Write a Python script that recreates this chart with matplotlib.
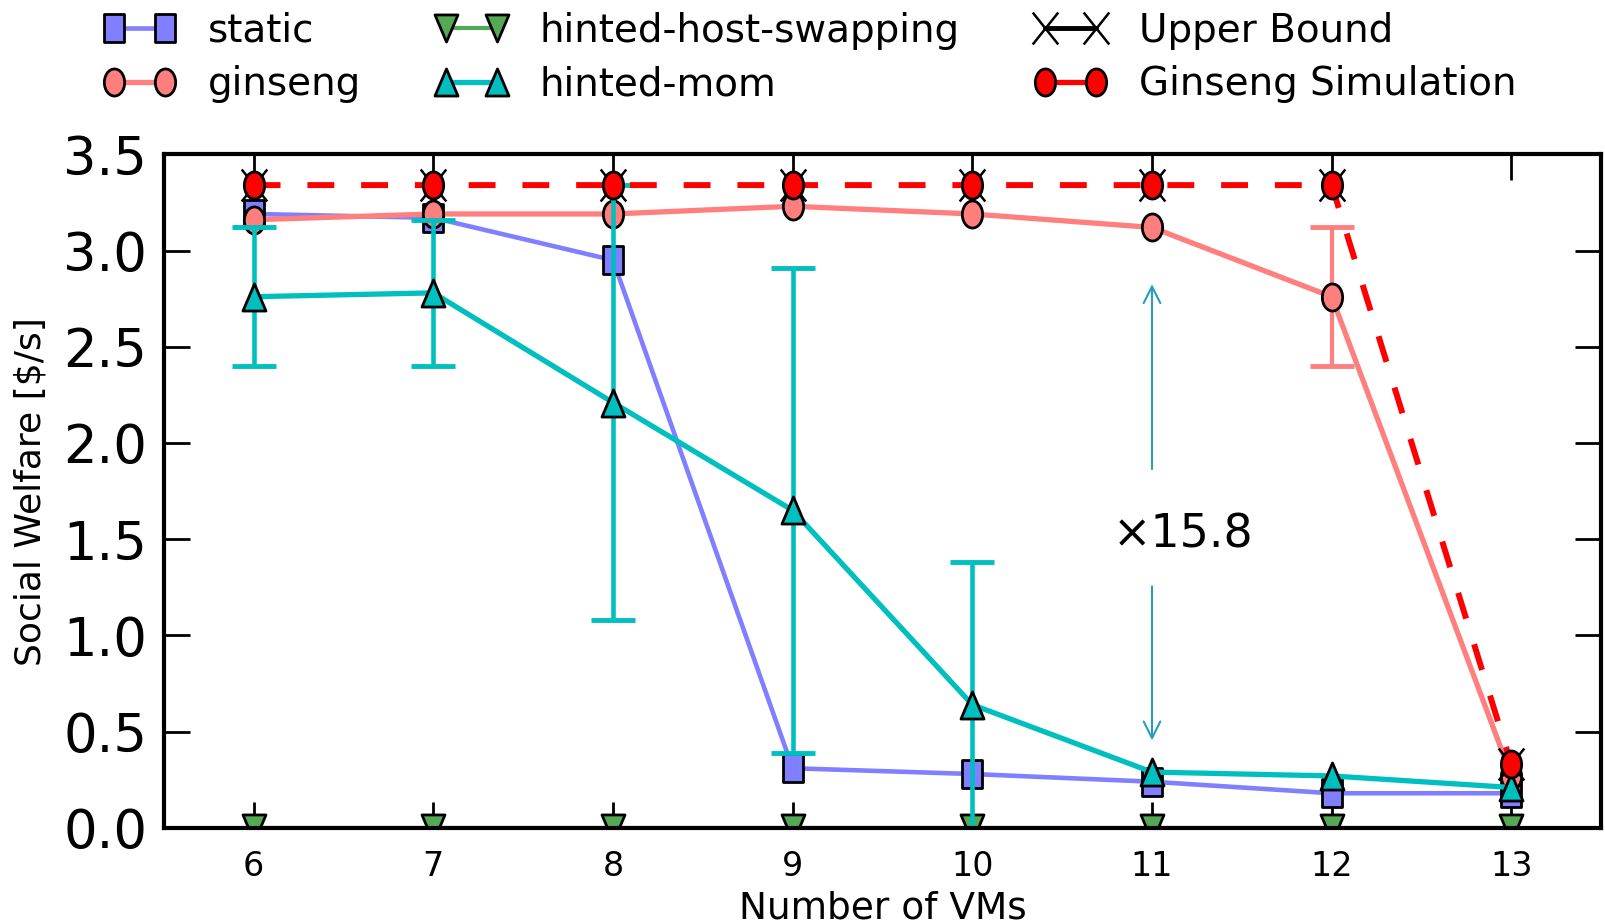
import numpy as np
import matplotlib
matplotlib.use("Agg")
import matplotlib.pyplot as plt
from matplotlib.lines import Line2D
from matplotlib.path import Path

vms = [6, 7, 8, 9, 10, 11, 12, 13]

static = [3.19, 3.17, 2.95, 0.31, 0.28, 0.24, 0.18, 0.18]
ginseng = [3.16, 3.19, 3.19, 3.23, 3.19, 3.12, 2.76, 0.27]
hinted_host_swapping = [0.0, 0.0, 0.0, 0.0, 0.0, 0.0, 0.0, 0.0]
hinted_mom = [2.76, 2.78, 2.21, 1.65, 0.64, 0.29, 0.27, 0.21]
upper_bound = [3.34, 3.34, 3.34, 3.34, 3.34, 3.34, 3.34, 0.33]
ginseng_sim = [3.34, 3.34, 3.34, 3.34, 3.34, 3.34, 3.34, 0.33]

# error bars only where they show up in the figure
mom_err_x = [6, 7, 8, 9, 10]
mom_err = [0.36, 0.38, 1.13, 1.26, 0.74]
ginseng_err_x = [12]
ginseng_err = [0.36]

c_static = '#7f7fff'
c_ginseng = '#ff7f7f'
c_hhs = '#55a955'
c_mom = '#00bfbf'
c_sim = '#ff0000'


# the original figure was squeezed sideways, so markers are a bit taller than wide
def squeeze(path, sx=0.75):
    v = path.vertices.copy()
    v[:, 0] *= sx
    return Path(v, path.codes)


m_circle = squeeze(Path.unit_circle())
m_square = squeeze(Path([(-1, -1), (1, -1), (1, 1), (-1, 1), (-1, -1)], closed=True))
m_down = squeeze(Path([(-1, 1), (1, 1), (0, -1), (-1, 1)], closed=True), 0.85)
m_up = squeeze(Path([(-1, -1), (1, -1), (0, 1), (-1, -1)], closed=True), 0.85)
m_x = squeeze(Path([(-1, -1), (1, 1), (-1, 1), (1, -1)],
                   [Path.MOVETO, Path.LINETO, Path.MOVETO, Path.LINETO]), 0.8)

ms = 19.5
lw = 3.8

fig = plt.figure(figsize=(16.06, 9.24), dpi=100)
ax = fig.add_axes([0.102, 0.104, 0.895, 0.729])

ax.plot(vms, static, '-', marker=m_square, color=c_static, lw=3.3, ms=ms, mfc=c_static, mec='black', mew=2)
ax.errorbar(ginseng_err_x, [ginseng[vms.index(v)] for v in ginseng_err_x], yerr=ginseng_err,
            fmt='none', ecolor=c_ginseng, elinewidth=3, capsize=16, capthick=3.5)
ax.plot(vms, ginseng, '-', marker=m_circle, color=c_ginseng, lw=lw, ms=ms, mfc=c_ginseng, mec='black', mew=2)
ax.plot(vms, hinted_host_swapping, '-', marker=m_down, color=c_hhs, lw=3, ms=ms, mfc=c_hhs, mec='black', mew=2)
ax.errorbar(mom_err_x, [hinted_mom[vms.index(v)] for v in mom_err_x], yerr=mom_err,
            fmt='none', ecolor=c_mom, elinewidth=3.3, capsize=16, capthick=3.5)
ax.plot(vms, hinted_mom, '-', marker=m_up, color=c_mom, lw=lw, ms=ms, mfc=c_mom, mec='black', mew=2)
ax.plot(vms, upper_bound, ls='none', marker=m_x, color='black', ms=23, mew=1.8)
ax.plot(vms, ginseng_sim, '--', marker=m_circle, color=c_sim, lw=4.3, dashes=(4.5, 4.5), ms=ms,
        mfc=c_sim, mec='black', mew=2)

# annotation with the gap at 11 VMs
arrow_col = '#2a9cc2'
ax.annotate('', xy=(11, 2.84), xytext=(11, 1.85),
            arrowprops=dict(arrowstyle='->', color=arrow_col, lw=1.5, mutation_scale=30))
ax.annotate('', xy=(11, 0.44), xytext=(11, 1.27),
            arrowprops=dict(arrowstyle='->', color=arrow_col, lw=1.5, mutation_scale=30))
ax.text(11.17, 1.52, '\u00d715.8', fontsize=33, ha='center', va='center')

ax.set_xlim(5.5, 13.5)
ax.set_ylim(0, 3.5)
ax.set_xticks(vms)
ax.set_yticks(np.arange(0, 3.51, 0.5))
ax.set_yticklabels(['%.1f' % v for v in np.arange(0, 3.51, 0.5)])
ax.tick_params(axis='both', direction='in', length=19, width=2, top=True, right=True)
ax.tick_params(axis='y', labelsize=38, pad=12)
ax.tick_params(axis='x', labelsize=24, pad=16)
for s in ax.spines.values():
    s.set_linewidth(3)
ax.set_xlabel('Number of VMs', fontsize=27)
ax.set_ylabel('Social Welfare [$/s]', fontsize=26)
ax.xaxis.set_label_coords(0.5, -0.093)
ax.yaxis.set_label_coords(-0.081, 0.5)

handles = [
    Line2D([], [], color=c_static, lw=3.3, marker=m_square, ms=ms, mfc=c_static, mec='black', mew=2),
    Line2D([], [], color=c_ginseng, lw=lw, marker=m_circle, ms=ms, mfc=c_ginseng, mec='black', mew=2),
    Line2D([], [], color=c_hhs, lw=3, marker=m_down, ms=ms, mfc=c_hhs, mec='black', mew=2),
    Line2D([], [], color=c_mom, lw=lw, marker=m_up, ms=ms, mfc=c_mom, mec='black', mew=2),
    Line2D([], [], color='black', lw=3.5, marker=m_x, ms=23, mew=1.8),
    Line2D([], [], color=c_sim, lw=lw, marker=m_circle, ms=ms, mfc=c_sim, mec='black', mew=2),
]
labels = ['static', 'ginseng', 'hinted-host-swapping', 'hinted-mom', 'Upper Bound', 'Ginseng Simulation']
fig.legend(handles, labels, loc='upper center', bbox_to_anchor=(0.504, 1.025), ncol=3, frameon=False,
           fontsize=28, numpoints=2, handlelength=1.9, columnspacing=1.9, labelspacing=0.4, handletextpad=0.8)

fig.savefig('out.png', dpi=100)
